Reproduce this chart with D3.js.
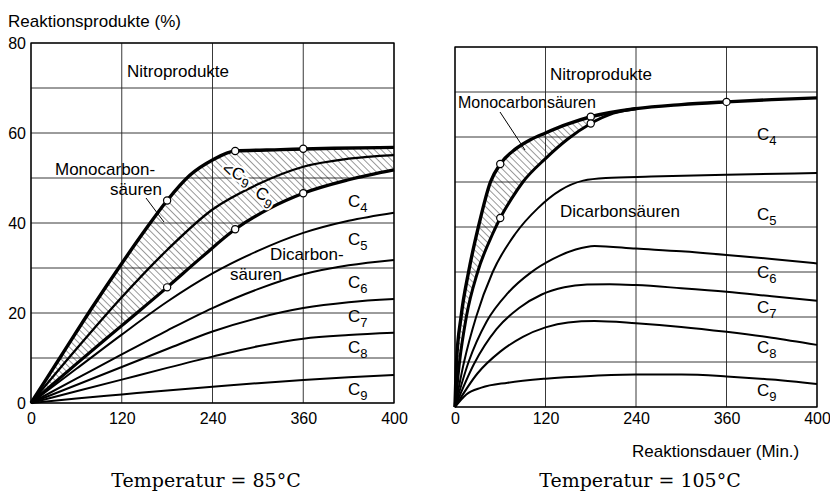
<!DOCTYPE html>
<html><head><meta charset="utf-8">
<script src="https://cdn.jsdelivr.net/npm/d3@7"></script>
<style>body{margin:0;background:#fff}svg{display:block}</style>
</head><body>
<svg id="c" width="830" height="493"></svg>
<script>
// ---- axis / tick data ----
const xTickValues = [0, 120, 240, 360, 480];
const xTickLabels = ["0", "120", "240", "360", "400"];
const yTickValues = [0, 20, 40, 60, 80];
const yGridValues = [0, 10, 20, 30, 40, 50, 60, 70, 80];

// ---- Temperatur = 85 °C  (x: Min., y: %) ----
const L_monoTop   = [[0,0],[40,10.5],[80,21],[120,31],[150,38.2],[180,45],[210,50.6],[240,54],[270,56],[330,56.3],[400,56.6],[480,56.8]];
const L_c9Line    = [[0,0],[60,12],[120,23.5],[180,34],[240,43],[300,48.6],[360,52.5],[420,54.3],[480,55.1]];
const L_monoLow   = [[0,0],[60,8.7],[120,17.2],[180,25.7],[225,32.3],[270,38.6],[315,43.2],[360,46.6],[420,49.6],[480,51.8]];
const L_c4c5      = [[0,0],[60,7.6],[120,15.2],[180,22.5],[240,28.8],[300,33.8],[360,37.8],[420,40.5],[480,42.3]];
const L_c5c6      = [[0,0],[60,5.4],[120,10.8],[180,16.1],[240,21.1],[300,25.3],[360,28.6],[420,30.6],[480,31.8]];
const L_c6c7      = [[0,0],[60,4],[120,8],[180,12],[240,15.9],[300,18.9],[360,21.1],[420,22.4],[480,23.1]];
const L_c7c8      = [[0,0],[60,2.6],[120,5.2],[180,7.8],[240,10.3],[300,12.6],[360,14.3],[420,15.1],[480,15.6]];
const L_c8c9      = [[0,0],[60,1],[120,1.9],[180,2.8],[240,3.6],[300,4.4],[360,5.1],[420,5.7],[480,6.2]];
const L_topMarks  = [[180,45],[270,56],[360,56.5]];
const L_lowMarks  = [[180,25.7],[270,38.6],[360,46.6]];

// ---- Temperatur = 105 °C ----
const R_monoTop   = [[0,0],[2,10],[8,20],[18,30],[31,40],[47,50],[60,54],[80,57.3],[100,59.4],[120,60.9],[150,62.9],[180,64.5],[240,66.3],[300,67.2],[360,67.8],[420,68.3],[480,68.7]];
const R_monoLow   = [[0,0],[6,10],[15,20],[30,30],[50,38.5],[60,42],[75,46.3],[90,50],[120,55.2],[150,59.6],[180,63],[210,65.3],[240,66.3]];
const R_c4c5      = [[0,0],[12,10],[28,20],[50,30],[80,38.5],[110,44.2],[140,48.2],[170,50.3],[200,50.9],[260,51.2],[360,51.6],[480,52]];
const R_c5c6      = [[0,0],[18,10],[42,19],[70,25.3],[100,29.8],[130,32.9],[160,35],[185,35.8],[240,35.2],[300,34.6],[360,33.8],[420,32.9],[480,31.9]];
const R_c6c7      = [[0,0],[25,9.5],[55,17.3],[85,22],[115,25],[145,26.6],[175,27.2],[205,27.3],[240,27.1],[300,26.4],[360,25.6],[420,24.6],[480,23.6]];
const R_c7c8      = [[0,0],[30,7.5],[60,12.3],[90,15.6],[120,17.7],[150,18.8],[185,19.1],[240,18.6],[300,17.8],[360,16.7],[420,15.4],[480,13.8]];
const R_c8c9      = [[0,0],[15,2.8],[35,4.3],[70,5.4],[120,6.3],[180,6.9],[240,7.2],[300,7.2],[360,6.8],[420,6.1],[480,5.1]];
const R_topMarks  = [[60,54],[180,64.5],[360,67.8]];
const R_lowMarks  = [[60,42],[180,63]];

const SANS = "'Liberation Sans', Arial, sans-serif";
const SERIF = "'DejaVu Serif', 'Liberation Serif', serif";
const svg = d3.select("#c");

// hatch pattern
const defs = svg.append("defs");
defs.append("pattern").attr("id","hatch").attr("patternUnits","userSpaceOnUse")
  .attr("width",4.8).attr("height",4.8).attr("patternTransform","rotate(-45)")
  .append("line").attr("x1",0).attr("y1",0).attr("x2",0).attr("y2",4.8)
  .attr("stroke","#111").attr("stroke-width",0.85);

function drawPanel(cfg) {
  const x = d3.scaleLinear().domain([0,480]).range([cfg.x0, cfg.x1]);
  const y = d3.scaleLinear().domain([0,80]).range([cfg.yBot, cfg.yTop]);
  const g = svg.append("g");

  // grid
  g.selectAll(null).data(yGridValues).join("line")
    .attr("x1",cfg.x0).attr("x2",cfg.x1).attr("y1",d=>y(d)).attr("y2",d=>y(d))
    .attr("stroke","#222").attr("stroke-width",0.9);
  g.selectAll(null).data(xTickValues).join("line")
    .attr("x1",d=>x(d)).attr("x2",d=>x(d)).attr("y1",cfg.yTop).attr("y2",cfg.yBot)
    .attr("stroke","#222").attr("stroke-width",0.9);
  g.append("rect").attr("x",cfg.x0).attr("y",cfg.yTop)
    .attr("width",cfg.x1-cfg.x0).attr("height",cfg.yBot-cfg.yTop)
    .attr("fill","none").attr("stroke","#000").attr("stroke-width",1.3);

  // axes labels
  const ax = g.append("g").attr("transform",`translate(0,${cfg.yBot})`)
    .call(d3.axisBottom(x).tickValues(xTickValues).tickFormat((d,i)=>xTickLabels[i]).tickSize(0));
  ax.select(".domain").remove();
  ax.selectAll("text").attr("y", 424 - cfg.yBot).attr("dy", null)
    .attr("font-family",SANS).attr("font-size",16).attr("fill","#000");
  if (cfg.yLabels) {
    const ay = g.append("g").attr("transform",`translate(${cfg.x0},0)`)
      .call(d3.axisLeft(y).tickValues(yTickValues).tickSize(0).tickPadding(5));
    ay.select(".domain").remove();
    ay.selectAll("text").attr("font-family",SANS).attr("font-size",16).attr("fill","#000");
  }

  // hatch between mono top and mono low
  const area = d3.area().x(d=>x(d[0])).y0(y(0)).y1(d=>y(d[1])).curve(d3.curveMonotoneX);
  const line = d3.line().x(d=>x(d[0])).y(d=>y(d[1])).curve(d3.curveMonotoneX);
  const lowExt = cfg.monoLow.concat(cfg.monoTop.filter(d=>d[0] > cfg.monoLow[cfg.monoLow.length-1][0]));
  const mask = defs.append("mask").attr("id","m"+cfg.id);
  mask.append("path").attr("d",area(cfg.monoTop)).attr("fill","#fff");
  mask.append("path").attr("d",area(lowExt)).attr("fill","#000");
  g.append("rect").attr("x",cfg.x0).attr("y",cfg.yTop)
    .attr("width",cfg.x1-cfg.x0).attr("height",cfg.yBot-cfg.yTop)
    .attr("fill","url(#hatch)").attr("mask",`url(#m${cfg.id})`);

  // curves
  cfg.lines.forEach(l=>{
    g.append("path").attr("d",line(l.data)).attr("fill","none")
      .attr("stroke","#000").attr("stroke-width",l.w).attr("stroke-linejoin","round");
  });
  // markers
  g.selectAll(null).data(cfg.marks).join("circle")
    .attr("cx",d=>x(d[0])).attr("cy",d=>y(d[1])).attr("r",3.6)
    .attr("fill","#fff").attr("stroke","#000").attr("stroke-width",1.2);
  return g;
}

drawPanel({id:"L", x0:31, x1:394, yTop:43, yBot:403, yLabels:true,
  monoTop:L_monoTop, monoLow:L_monoLow,
  lines:[{data:L_monoTop,w:3.4},{data:L_c9Line,w:2.3},{data:L_monoLow,w:3.2},
         {data:L_c4c5,w:2},{data:L_c5c6,w:2},{data:L_c6c7,w:2},{data:L_c7c8,w:2},{data:L_c8c9,w:2}],
  marks:L_topMarks.concat(L_lowMarks)});

drawPanel({id:"R", x0:455, x1:817, yTop:47, yBot:407, yLabels:false,
  monoTop:R_monoTop, monoLow:R_monoLow,
  lines:[{data:R_monoTop,w:3.4},{data:R_monoLow,w:3.0},
         {data:R_c4c5,w:2},{data:R_c5c6,w:2},{data:R_c6c7,w:2},{data:R_c7c8,w:2},{data:R_c8c9,w:2}],
  marks:R_topMarks.concat(R_lowMarks)});

// ---- texts ----
function txt(x, y, s, size, opts={}) {
  const t = svg.append("text").attr("x",x).attr("y",y)
    .attr("font-family",opts.font||SANS).attr("font-size",size).attr("fill","#000")
    .attr("text-anchor",opts.anchor||"start").text(s);
  if (opts.rot) t.attr("transform",`rotate(${opts.rot},${x},${y})`);
  return t;
}
function cLabel(x, y, main, sub, opts={}) {
  const t = svg.append("text").attr("x",x).attr("y",y)
    .attr("font-family",SANS).attr("font-size",17).attr("fill","#000");
  if (opts.halo) t.attr("stroke","#fff").attr("stroke-width",4).attr("paint-order","stroke").attr("stroke-linejoin","round");
  t.append("tspan").text(main);
  t.append("tspan").attr("dy",5).attr("font-size",13).text(sub);
  if (opts.rot) t.attr("transform",`rotate(${opts.rot},${x},${y})`);
}

txt(8, 27, "Reaktionsprodukte (%)", 17);

// left panel labels
txt(127, 77, "Nitroprodukte", 17);
txt(55, 175, "Monocarbon-", 17);
txt(110, 195, "säuren", 17);
svg.append("line").attr("x1",146).attr("y1",198).attr("x2",164).attr("y2",222)
  .attr("stroke","#000").attr("stroke-width",1);
cLabel(221, 173, "<C", "9", {rot:22, halo:true});
cLabel(254, 196, "C", "9", {rot:28, halo:true});
cLabel(348, 207, "C", "4");
cLabel(348, 245, "C", "5");
txt(270, 260, "Dicarbon-", 17);
txt(230, 280, "säuren", 17);
cLabel(348, 288, "C", "6");
cLabel(348, 322, "C", "7");
cLabel(348, 353, "C", "8");
cLabel(348, 395, "C", "9");

// right panel labels
txt(550, 80, "Nitroprodukte", 17);
txt(458, 108, "Monocarbonsäuren", 16);
svg.append("line").attr("x1",500).attr("y1",112).attr("x2",525).attr("y2",150)
  .attr("stroke","#000").attr("stroke-width",1);
cLabel(757, 140, "C", "4");
txt(560, 217, "Dicarbonsäuren", 17);
cLabel(757, 220, "C", "5");
cLabel(757, 278, "C", "6");
cLabel(757, 313, "C", "7");
cLabel(757, 353, "C", "8");
cLabel(757, 396, "C", "9");

// bottom
txt(632, 457, "Reaktionsdauer (Min.)", 17);
txt(206, 487, "Temperatur = 85°C", 19, {font:SERIF, anchor:"middle"});
txt(640, 487, "Temperatur = 105°C", 19, {font:SERIF, anchor:"middle"});
</script>
</body></html>
